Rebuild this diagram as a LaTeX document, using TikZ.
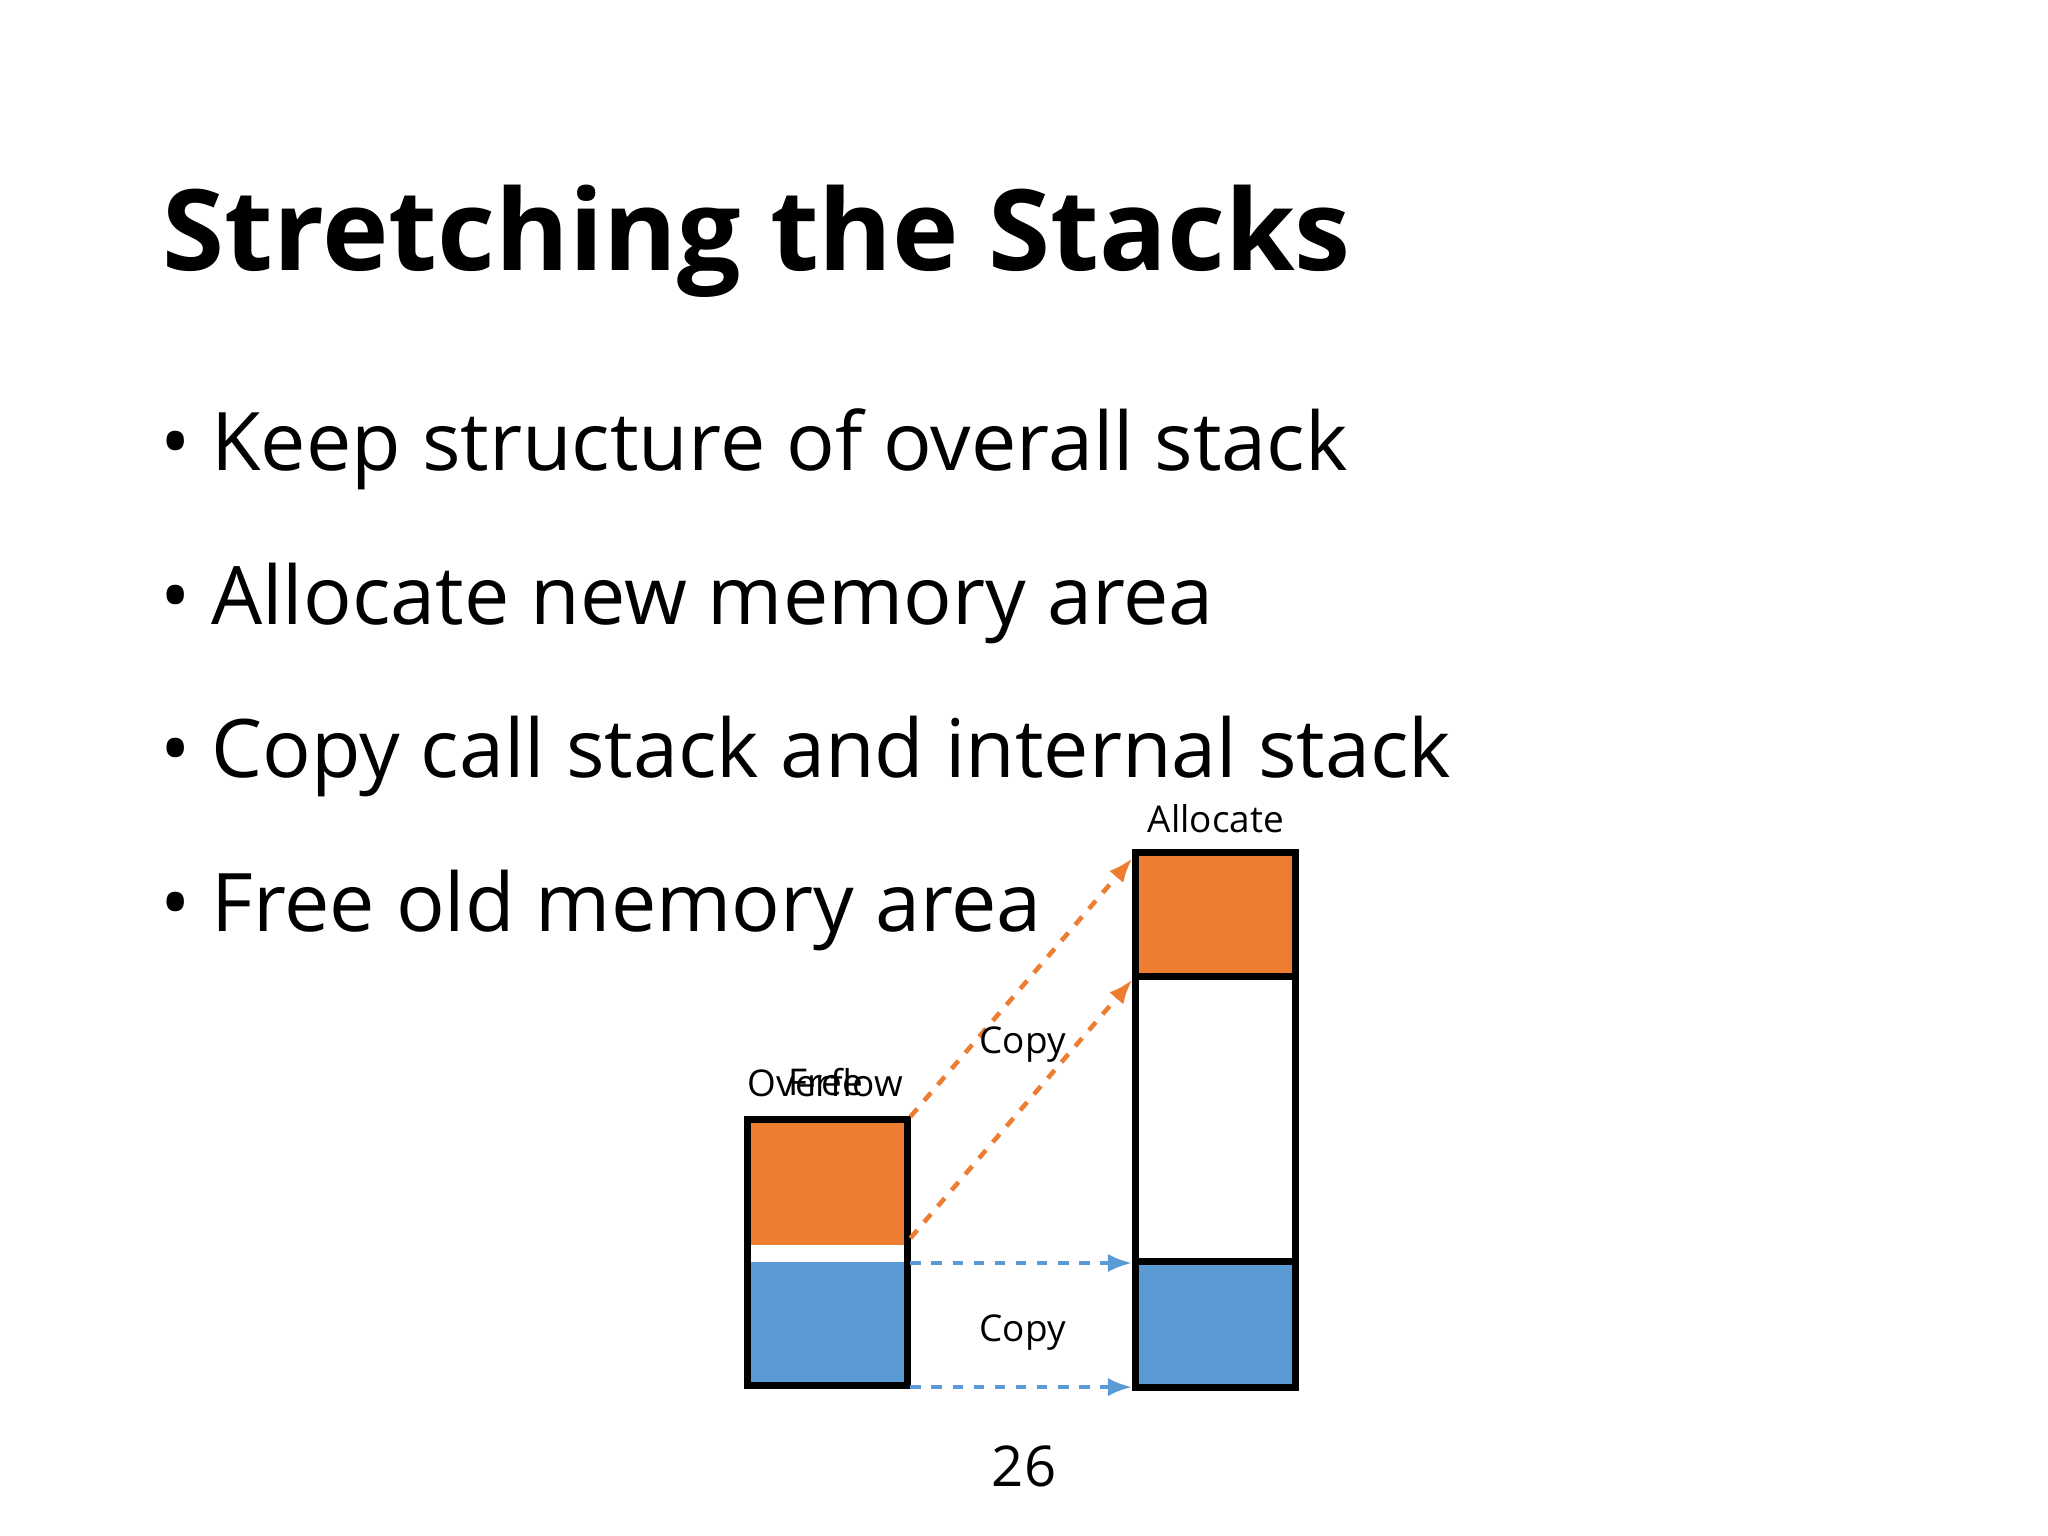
\documentclass[tikz,border=0pt]{standalone}
\usepackage{fontspec}
\setmainfont{Open Sans}
\usetikzlibrary{arrows.meta}
\definecolor{stackorange}{HTML}{ED7D31}
\definecolor{stackblue}{HTML}{5B9BD5}
\tikzset{
  bullettext/.style={anchor=base west, font=\fontsize{23}{28}\selectfont},
  smalltext/.style={font=\fontsize{10.5}{12}\selectfont},
  copyarrow/.style={dashed, line width=1.3pt, -{Latex[length=7pt]}},
  stackframe/.style={draw=black, line width=2pt}
}
\begin{document}
\begin{tikzpicture}[x=0.01306cm, y=-0.01306cm]
  \useasboundingbox (0,0) rectangle (1568,1176);
  % Title and bullets
  \node[anchor=base west, inner sep=0, font=\bfseries\fontsize{32}{38}\selectfont] (title) at (124,207) {Stretching the Stacks};
  \node[bullettext] (b1) at (113,360) {• Keep structure of overall stack};
  \node[bullettext] (b2) at (113,478) {• Allocate new memory area};
  \node[bullettext] (b3) at (113,595) {• Copy call stack and internal stack};
  \node[bullettext] (b4) at (113,713) {• Free old memory area};

  % Old stack
  \fill[stackorange] (572,857) rectangle (695,953);
  \fill[stackblue] (572,966) rectangle (695,1061);
  \draw[stackframe] (572,857) rectangle (695,1061);
  \coordinate (oldtop) at (697,855);
  \coordinate (oldmid) at (697,948);
  \coordinate (oldblue) at (697,967);
  \coordinate (oldbot) at (697,1062);

  % New stack
  \fill[stackorange] (869,653) rectangle (992,748);
  \fill[stackblue] (869,966) rectangle (992,1062);
  \draw[stackframe] (869,653) rectangle (992,1062);
  \draw[stackframe] (869,748) -- (992,748);
  \draw[stackframe] (869,966) -- (992,966);
  \coordinate (newtop) at (867,657);
  \coordinate (newmid) at (867,750);
  \coordinate (newblue) at (867,967);
  \coordinate (newbot) at (867,1062);

  % Copy arrows
  \draw[copyarrow, stackorange] (oldtop) -- (newtop);
  \draw[copyarrow, stackorange] (oldmid) -- (newmid);
  \draw[copyarrow, stackblue] (oldblue) -- (newblue);
  \draw[copyarrow, stackblue] (oldbot) -- (newbot);

  % Labels
  \node[smalltext] (alloc) at (931,627) {Allocate};
  \node[smalltext] (over) at (632,829) {Overflow};
  \node[smalltext] (free) at (632,829) {Free};
  \node[smalltext] (copy1) at (783,800) {Copy};
  \node[smalltext] (copy2) at (783,1020) {Copy};
  \node[font=\fontsize{16}{19}\selectfont] (page) at (784,1123) {26};
\end{tikzpicture}
\end{document}
